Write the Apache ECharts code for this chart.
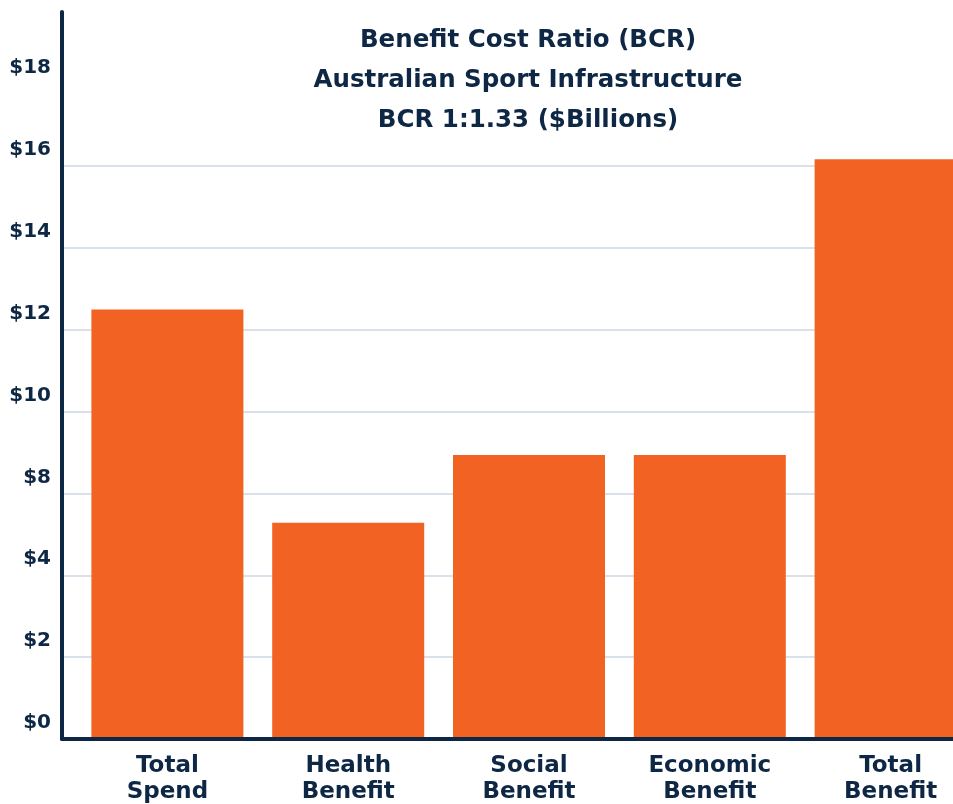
<!DOCTYPE html>
<html>
<head>
<meta charset="utf-8">
<script src="https://cdn.jsdelivr.net/npm/echarts@6/dist/echarts.min.js"></script>
<style>
html,body{margin:0;padding:0;background:#fff;}
#chart{width:953px;height:804px;}
</style>
</head>
<body>
<div id="chart"></div>
<script>
const categories = ['Total\nSpend', 'Health\nBenefit', 'Social\nBenefit', 'Economic\nBenefit', 'Total\nBenefit'];
const values = [10.49, 5.28, 6.94, 6.94, 14.16];
const yTickLabels = ['$0', '$2', '$4', '$8', '$10', '$12', '$14', '$16', '$18'];
const titleText = 'Benefit Cost Ratio (BCR)\nAustralian Sport Infrastructure\nBCR 1:1.33 ($Billions)';

const navy = '#0e2744';
const orange = '#f26323';
const grid = '#d9e1ea';
const font = 'DejaVu Sans';
const yMax = 17.76;

const chart = echarts.init(document.getElementById('chart'));
chart.setOption({
  animation: false,
  backgroundColor: '#ffffff',
  title: {
    text: titleText,
    left: 523,
    top: 16,
    textAlign: 'center',
    textStyle: {
      color: navy, fontFamily: font, fontSize: 24.5, fontWeight: 700, lineHeight: 40
    }
  },
  grid: [
    {left: 77, width: 904, top: 12, bottom: 65, outerBoundsMode: 'none', containLabel: false},
    {left: 62, width: 920, top: 12, bottom: 65, outerBoundsMode: 'none', containLabel: false}
  ],
  xAxis: [
    {
      type: 'category', gridIndex: 0, data: categories,
      axisLine: {show: false}, axisTick: {show: false},
      axisLabel: {
        color: navy, fontFamily: font, fontSize: 23, fontWeight: 700,
        lineHeight: 26, margin: 14, interval: 0
      }
    },
    {
      type: 'value', gridIndex: 1, min: 0, max: 1, z: 5,
      axisLine: {show: true, lineStyle: {color: navy, width: 4}},
      axisTick: {show: false}, axisLabel: {show: false}, splitLine: {show: false}
    }
  ],
  yAxis: [
    {type: 'value', gridIndex: 0, min: 0, max: yMax, show: false, splitLine: {show: false}},
    {
      type: 'value', gridIndex: 1, min: 0, max: yMax, interval: 2,
      axisLine: {show: true, lineStyle: {color: navy, width: 4}},
      axisTick: {show: false},
      splitLine: {
        show: true, showMaxLine: false,
        lineStyle: {color: [grid, grid, grid, grid, grid, grid, grid, grid, 'rgba(0,0,0,0)'], width: 2}
      },
      axisLabel: {
        showMaxLabel: false,
        color: navy, fontFamily: font, fontSize: 20, fontWeight: 700,
        margin: 11, verticalAlign: 'bottom', padding: [0, 0, 6, 0],
        formatter: function (v) {
          const i = Math.round(v / 2);
          return yTickLabels[i] !== undefined ? yTickLabels[i] : '';
        }
      }
    }
  ],
  series: [{
    type: 'bar', xAxisIndex: 0, yAxisIndex: 0,
    data: values, barWidth: 152,
    itemStyle: {color: orange}
  }]
});
</script>
</body>
</html>
